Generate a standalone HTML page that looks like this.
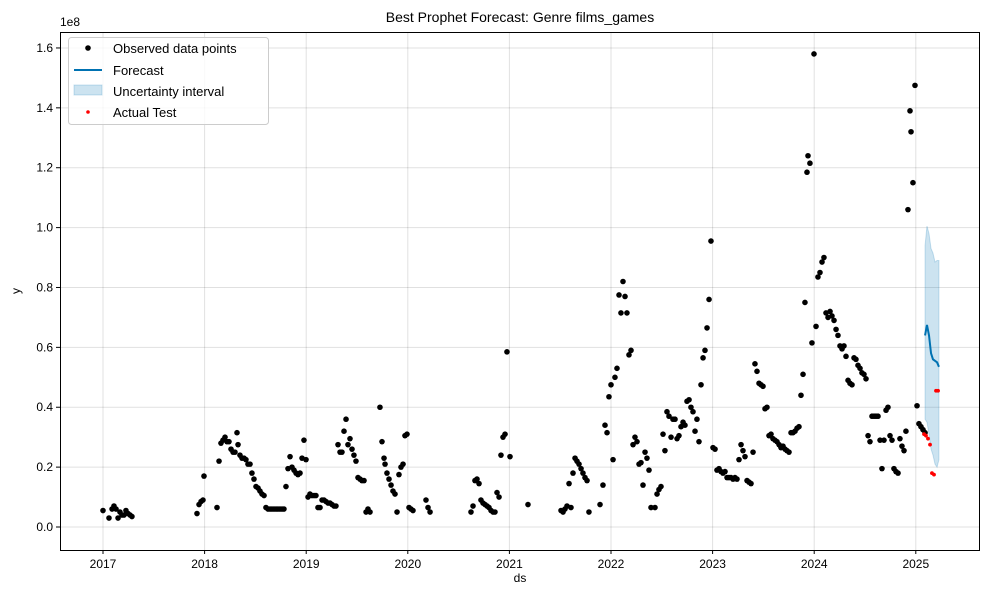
<!DOCTYPE html>
<html><head><meta charset="utf-8"><style>
body{margin:0;background:#fff;font-family:"Liberation Sans",sans-serif;}
svg text{font-family:"Liberation Sans",sans-serif;fill:#000;}
</style></head><body>
<svg id="chart" width="989" height="595" xmlns="http://www.w3.org/2000/svg">
<rect x="0" y="0" width="989" height="595" fill="#fff"/>
<text x="520" y="22" font-size="14" text-anchor="middle">Best Prophet Forecast: Genre films_games</text>
<g id="grid"></g>
<g id="band"></g>
<g id="obs"></g>
<g id="fc"></g>
<g id="test"></g>
<rect x="60.5" y="32.5" width="919" height="518" fill="none" stroke="#000" stroke-width="1"/>
<g id="axes"></g>
<text x="520" y="582" font-size="12" text-anchor="middle">ds</text>
<text x="20" y="291" font-size="12" text-anchor="middle" transform="rotate(-90 20 291)">y</text>
<text x="60" y="26" font-size="12">1e8</text>
<g>
<rect x="68.5" y="37.5" width="200" height="87" rx="3" fill="#fff" fill-opacity="0.8" stroke="#ccc"/>
<g><circle cx="88" cy="48" r="2.8" fill="#000"/><text x="113" y="53" font-size="13">Observed data points</text></g>
<g><line x1="74" y1="70" x2="102" y2="70" stroke="#0072B2" stroke-width="2"/><text x="113" y="75" font-size="13">Forecast</text></g>
<g><rect x="74" y="85" width="28" height="10" fill="#0072B2" fill-opacity="0.2" stroke="#0072B2" stroke-opacity="0.2"/><text x="113" y="96" font-size="13">Uncertainty interval</text></g>
<g><circle cx="88" cy="112" r="1.8" fill="red"/><text x="113" y="117" font-size="13">Actual Test</text></g>
</g>
</svg>
<script>
const xTicks=[2017,2018,2019,2020,2021,2022,2023,2024,2025];
const yTicks=[0,0.2,0.4,0.6,0.8,1.0,1.2,1.4,1.6];
const yTickLabels=["0.0","0.2","0.4","0.6","0.8","1.0","1.2","1.4","1.6"];
const obsDates=[2017.00,2017.059,2017.089,2017.108,2017.128,2017.148,2017.167,2017.187,2017.207,2017.226,2017.246,2017.266,2017.285,
2017.925,2017.945,2017.965,2017.984,2017.994,2018.122,2018.142,2018.161,2018.181,2018.201,2018.220,2018.240,2018.260,2018.280,2018.299,2018.319,2018.329,2018.348,2018.368,2018.388,2018.407,2018.427,2018.447,2018.466,2018.486,2018.506,2018.526,2018.545,2018.565,2018.585,2018.604,2018.624,2018.644,2018.663,2018.683,2018.703,2018.722,2018.742,2018.762,2018.781,2018.801,2018.821,2018.841,2018.860,2018.880,2018.900,2018.919,2018.939,2018.959,2018.978,2018.998,
2019.018,2019.037,2019.057,2019.077,2019.096,2019.116,2019.136,2019.156,2019.175,2019.195,2019.215,2019.234,2019.254,2019.274,2019.293,2019.313,2019.333,2019.352,2019.372,2019.392,2019.411,2019.431,2019.451,2019.470,2019.490,2019.510,2019.530,2019.549,2019.569,2019.589,2019.608,2019.628,2019.726,2019.746,2019.766,2019.776,2019.795,2019.815,2019.835,2019.854,2019.874,2019.894,2019.913,2019.933,2019.953,2019.972,2019.992,2020.012,2020.031,2020.051,2020.179,2020.199,2020.219,
2020.622,2020.642,2020.661,2020.681,2020.701,2020.720,2020.740,2020.760,2020.780,2020.799,2020.819,2020.839,2020.858,2020.878,2020.898,2020.917,2020.937,2020.957,2020.976,2021.006,2021.183,
2021.508,2021.528,2021.547,2021.567,2021.587,2021.606,2021.626,2021.646,2021.665,2021.685,2021.705,2021.724,2021.744,2021.764,2021.783,2021.892,2021.921,2021.941,2021.961,2021.980,2022.000,2022.020,2022.039,2022.059,2022.079,2022.098,2022.118,2022.138,2022.157,2022.177,2022.197,2022.217,2022.236,2022.256,2022.276,2022.295,2022.315,2022.335,2022.354,2022.374,2022.394,2022.433,2022.453,2022.472,2022.492,2022.512,2022.531,2022.551,2022.571,2022.591,2022.610,2022.630,2022.650,2022.669,2022.689,2022.709,2022.728,2022.748,2022.768,2022.787,2022.807,2022.827,2022.846,2022.866,2022.886,2022.906,2022.925,2022.945,2022.965,2022.984,
2023.004,2023.024,2023.043,2023.063,2023.083,2023.102,2023.122,2023.142,2023.161,2023.181,2023.201,2023.220,2023.240,2023.260,2023.280,2023.299,2023.319,2023.339,2023.358,2023.378,2023.398,2023.417,2023.437,2023.457,2023.476,2023.496,2023.516,2023.535,2023.555,2023.575,2023.594,2023.614,2023.634,2023.654,2023.673,2023.693,2023.713,2023.732,2023.752,2023.772,2023.791,2023.811,2023.831,2023.850,2023.870,2023.890,2023.909,2023.929,2023.939,2023.958,2023.978,2023.998,
2024.018,2024.037,2024.057,2024.077,2024.096,2024.116,2024.136,2024.156,2024.175,2024.195,2024.215,2024.234,2024.254,2024.274,2024.293,2024.313,2024.333,2024.352,2024.372,2024.392,2024.411,2024.431,2024.451,2024.470,2024.490,2024.510,2024.530,2024.549,2024.569,2024.589,2024.608,2024.628,2024.648,2024.667,2024.687,2024.707,2024.726,2024.746,2024.766,2024.785,2024.805,2024.825,2024.844,2024.864,2024.884,2024.903,2024.923,2024.943,2024.953,2024.972,2024.992,2025.012,2025.031,2025.051,2025.071,2025.091];
const obsValues=[5.5,3,6,7,6,3,5,4,4,5.5,4.5,4,3.5,
4.5,7.5,8.5,9,17,6.5,22,28,29,30,28.5,28.5,26,25,25,31.5,27.5,24,23,23,22.5,21,21,18,16,13.5,13,12,11,10.5,6.5,6,6,6,6,6,6,6,6,6,13.5,19.5,23.5,20,19,18,17.5,18,23,29,22.5,
10,11,10.5,10.5,10.5,6.5,6.5,9,9,8.5,8,8,7.5,7,7,27.5,25,25,32,36,27.5,29.5,26,24,22,16.5,16,15.5,15.5,5,6,5,40,28.5,23,21,18,16,14,12,11,5,17.5,20,21,30.5,31,6.5,6,5.5,9,6.5,5,
5,7,15.5,16,14.5,9,8,7.5,7,6.5,5.5,5,5,11.5,10,24,30,31,58.5,23.5,7.5,
5.5,5,6,7,14.5,6.5,18,23,22,21,19.5,18,16.5,15.5,5,7.5,14,34,31.5,43.5,47.5,22.5,50,53,77.5,71.5,82,77,71.5,57.5,59,27.5,30,28.5,21,21.5,14,25,23,19,6.5,6.5,11,12.5,13.5,31,25.5,38.5,37,30,36,36,29.5,30.5,33.5,35,34,42,42.5,40,38.5,32,36,28.5,47.5,56.5,59,66.5,76,95.5,
26.5,26,19,19.5,18.5,18,18.5,16.5,16.5,16.5,16,16.5,16,22.5,27.5,25.5,23.5,15.5,15,14.5,25,54.5,52,48,47.5,47,39.5,40,30.5,31,29.5,29,28.5,27.5,26.5,27,26,25.5,25,31.5,31.5,32,33,33.5,44,51,75,118.5,124,121.5,61.5,158,
67,83.5,85,88.5,90,71.5,70,72,70.5,69,66,64,60.5,59.5,60.5,57,49,48,47.5,56.5,56,54,53,51.5,51,49.5,30.5,28.5,37,37,37,37,29,19.5,29,39,40,30.5,29,19.5,18.5,18,29.5,27,25.5,32,106,139,132,115,147.5,40.5,34.5,33.5,32.5,31.5];
const testDates=[2025.081,2025.100,2025.120,2025.140,2025.159,2025.179,2025.199,2025.219];
const testValues=[31,30.5,29.5,27.5,18,17.5,45.5,45.5];
const fcDates=[2025.091,2025.110,2025.130,2025.150,2025.169,2025.189,2025.209,2025.228];
const fcValues=[64,67.5,64,58,56,55.5,55,53.5];
const fcUpper=[94,100.5,98,93,91.5,88.5,89,89];
const fcLower=[36,35,31,26,24,21,20,22.5];

const NS="http://www.w3.org/2000/svg";
function xs(d){return 103+(d-2017)*101.6;}
function ys(v){return 527-v*2.994;}
function mk(tag,attrs,parent){const e=document.createElementNS(NS,tag);for(const k in attrs)e.setAttribute(k,attrs[k]);document.getElementById(parent).appendChild(e);return e;}

xTicks.forEach(t=>{
  const g=mk('line',{x1:xs(t),x2:xs(t),y1:32,y2:550,stroke:'#000','stroke-opacity':0.12,'stroke-width':1},'grid');
  
  
  const tk=mk('line',{x1:xs(t),x2:xs(t),y1:550,y2:554,stroke:'#000'},'axes');
  
  
  const tx=mk('text',{x:xs(t),y:568,'font-size':12,'text-anchor':'middle'},'axes');
  tx.textContent=t;
  
  
});
yTicks.forEach((t,i)=>{
  const y=ys(t*100);
  const g=mk('line',{x1:60,x2:980,y1:y,y2:y,stroke:'#000','stroke-opacity':0.12,'stroke-width':1},'grid');
  
  
  const tk=mk('line',{x1:56,x2:60,y1:y,y2:y,stroke:'#000'},'axes');
  
  
  const tx=mk('text',{x:53,y:y+4,'font-size':12,'text-anchor':'end'},'axes');
  tx.textContent=yTickLabels[i];
  
  
});
let up=fcDates.map((d,i)=>xs(d)+','+ys(fcUpper[i]));
let lo=fcDates.map((d,i)=>xs(d)+','+ys(fcLower[i])).reverse();
const band=mk('polygon',{points:up.concat(lo).join(' '),fill:'#0072B2','fill-opacity':0.2,stroke:'#0072B2','stroke-opacity':0.2},'band');


obsDates.forEach((d,i)=>{
  const c=mk('circle',{cx:xs(d),cy:ys(obsValues[i]),r:2.8,fill:'#000'},'obs');
  
  
});
const line=mk('polyline',{points:fcDates.map((d,i)=>xs(d)+','+ys(fcValues[i])).join(' '),fill:'none',stroke:'#0072B2','stroke-width':2},'fc');


testDates.forEach((d,i)=>{
  const c=mk('circle',{cx:xs(d),cy:ys(testValues[i]),r:1.9,fill:'red'},'test');
  
  
});
</script>
</body></html>
